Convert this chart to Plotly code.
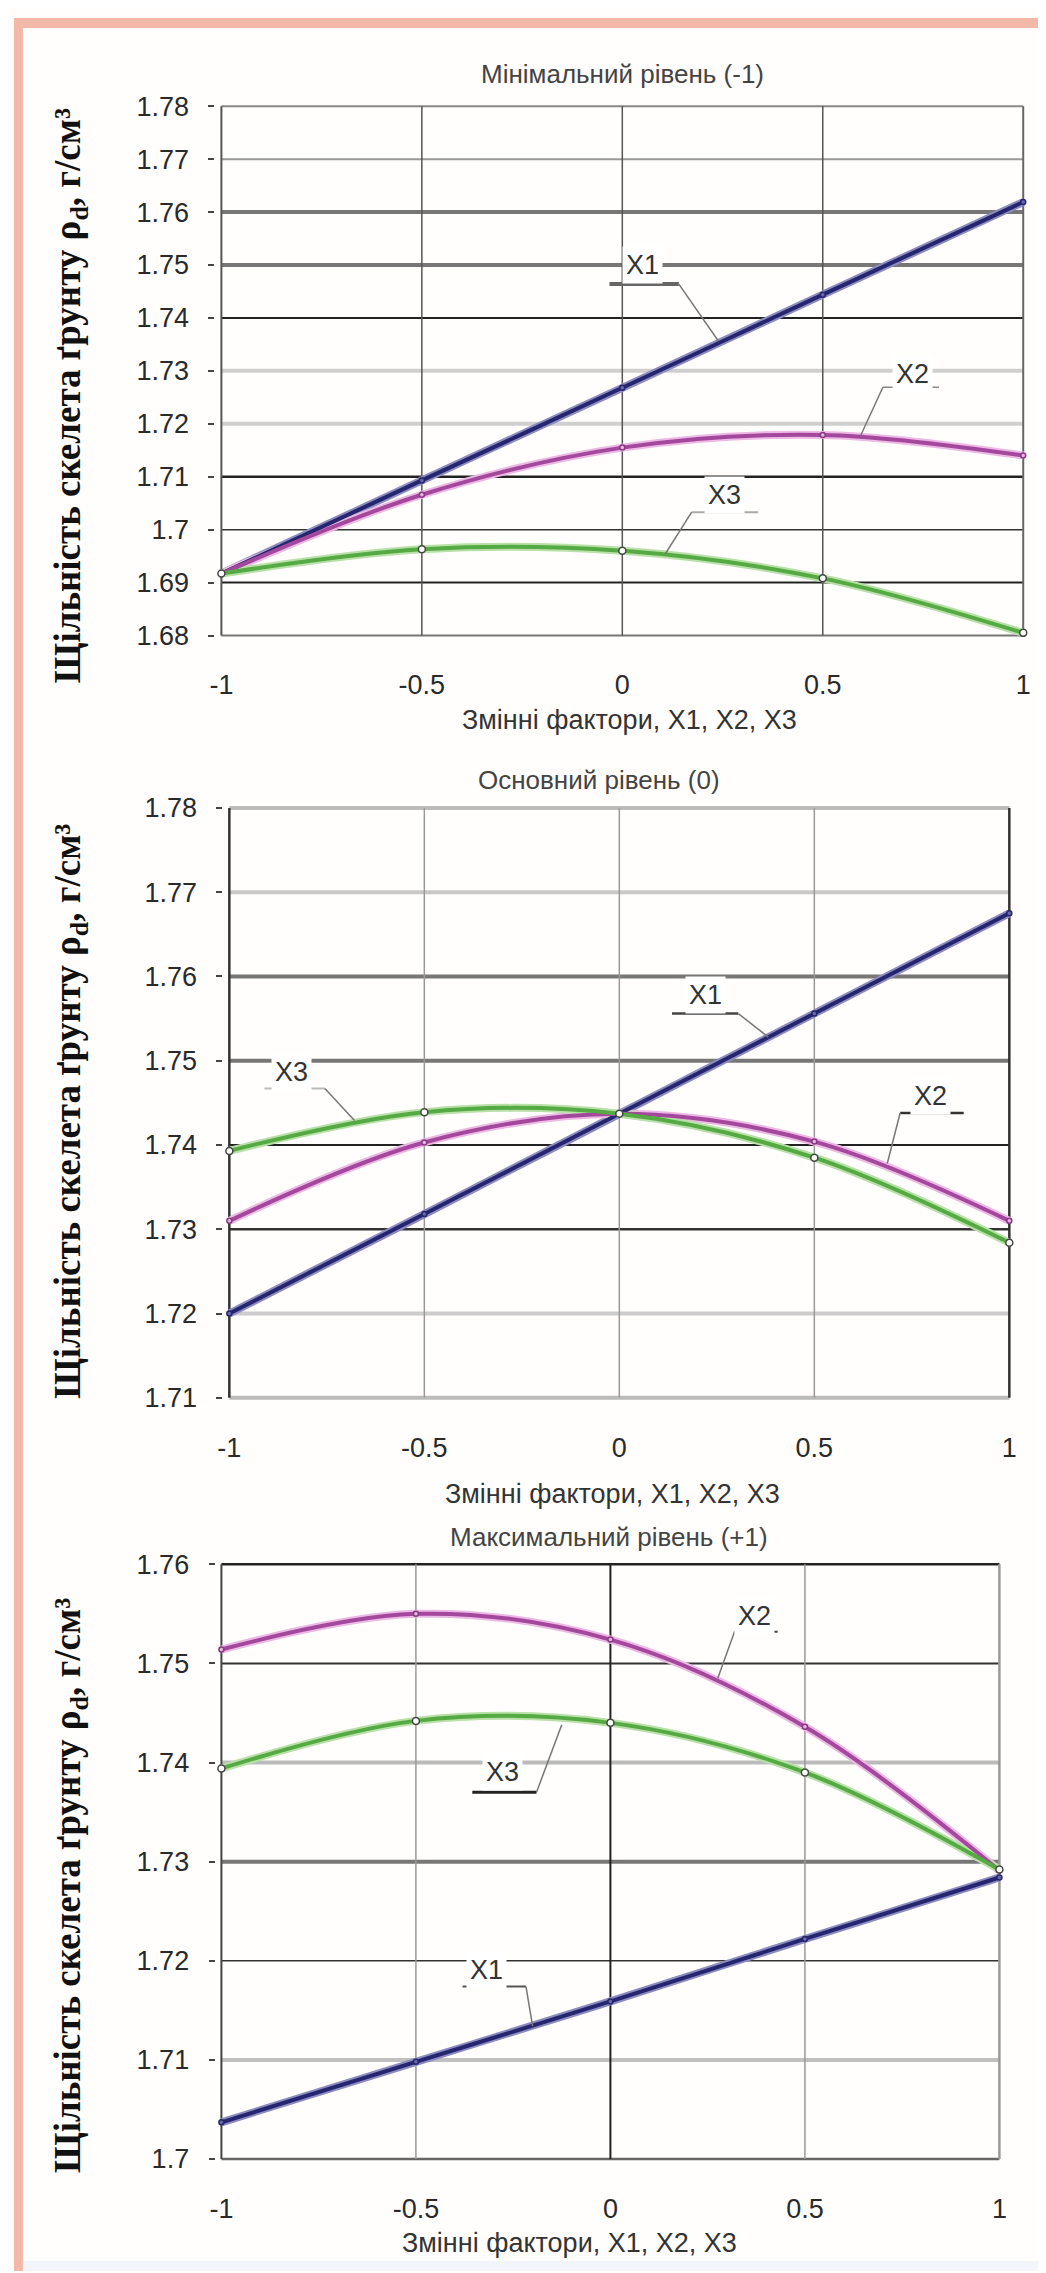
import plotly.graph_objects as go

# ---------------- data ----------------
x_levels = [-1, -0.5, 0, 0.5, 1]
x_tick_text = ["-1", "-0.5", "0", "0.5", "1"]
series_names = ["X1", "X2", "X3"]

# Panel 1: Мінімальний рівень (-1)
p1_x1 = [1.6917, 1.7093, 1.7268, 1.7444, 1.7619]
p1_x2 = [1.6917, 1.7066, 1.7155, 1.7179, 1.7140]
p1_x3 = [1.6917, 1.6963, 1.6960, 1.6908, 1.6805]
p1_yticks = [1.68, 1.69, 1.70, 1.71, 1.72, 1.73, 1.74, 1.75, 1.76, 1.77, 1.78]
p1_ytext = ["1.68", "1.69", "1.7", "1.71", "1.72", "1.73", "1.74", "1.75", "1.76", "1.77", "1.78"]

# Panel 2: Основний рівень (0)
p2_x1 = [1.7200, 1.7318, 1.7437, 1.7556, 1.7675]
p2_x2 = [1.7310, 1.7403, 1.7437, 1.7404, 1.7310]
p2_x3 = [1.7393, 1.7439, 1.7437, 1.7385, 1.7284]
p2_yticks = [1.71, 1.72, 1.73, 1.74, 1.75, 1.76, 1.77, 1.78]
p2_ytext = ["1.71", "1.72", "1.73", "1.74", "1.75", "1.76", "1.77", "1.78"]

# Panel 3: Максимальний рівень (+1)
p3_x1 = [1.7037, 1.7098, 1.7159, 1.7222, 1.7284]
p3_x2 = [1.7514, 1.7550, 1.7524, 1.7436, 1.7291]
p3_x3 = [1.7394, 1.7442, 1.7440, 1.7390, 1.7292]
p3_yticks = [1.70, 1.71, 1.72, 1.73, 1.74, 1.75, 1.76]
p3_ytext = ["1.7", "1.71", "1.72", "1.73", "1.74", "1.75", "1.76"]

titles = ["Мінімальний рівень (-1)", "Основний рівень (0)", "Максимальний рівень (+1)"]
x_title = "Змінні фактори, X1, X2, X3"
y_title = "Щільність скелета ґрунту ρ<sub>d</sub>, г/см³"

# ---------------- styles / layout ----------------
W, H = 1046, 2273
line_colors = ["#262670", "#a3489c", "#56aa44"]
halo_colors = ["#8c8cc0", "#ecb8e4", "#b8e0a8"]
marker_fill = ["#6a6aa8", "#e6b8e0", "white"]
marker_edge = ["#262670", "#8a3a84", "#444"]
marker_size = [5, 5, 7]
SANS = "Liberation Sans, Arial, sans-serif"
SERIF = "Liberation Serif, Times New Roman, serif"

# pixel geometry of each panel
geo = [
    dict(px=(209, 1017), py=(623, 89), ty=57, tx=613, xty=708, xtx=620, yty=381),
    dict(px=(217, 1003), py=(1392, 797), ty=769, tx=590, xty=1489, xtx=603, yty=1103),
    dict(px=(209, 993), py=(2160, 1560), ty=1532, tx=600, xty=2245, xtx=560, yty=1884),
]

# horizontal gridline styles (bottom -> top), vertical gridline styles (-1 -> 1)
hgrid = [
    [("#777", 2), ("#222", 2), ("#333", 1.5), ("#222", 2.5), ("#cfcfcf", 4), ("#cfcfcf", 4),
     ("#222", 2), ("#777", 4), ("#777", 4), ("#999", 2), ("#888", 2)],
    [("#bbb", 4), ("#ccc", 4), ("#333", 2.5), ("#222", 2), ("#777", 4), ("#777", 4),
     ("#c8c8c8", 4), ("#bbb", 4)],
    [("#666", 2.5), ("#c0c0c0", 4), ("#333", 1.5), ("#777", 4), ("#bbb", 4), ("#333", 2), ("#222", 2.5)],
]
vgrid = [
    [("#555", 2), ("#555", 1.5), ("#555", 1.5), ("#555", 1.5), ("#666", 2)],
    [("#333", 2.5), ("#999", 1.5), ("#999", 1.5), ("#999", 1.5), ("#333", 2.5)],
    [("#444", 2), ("#999", 1.5), ("#222", 2), ("#999", 1.5), ("#999", 2.5)],
]

# series labels: (name, text x, text y, underline x0, x1, y, leader end x, y, underline colour, width)
labels = [
    [("X1", 0.05, 1.7500, -0.032, 0.141, 1.7464, 0.24, 1.7356, "#666", 4),
     ("X2", 0.725, 1.7295, 0.65, 0.79, 1.7269, 0.594, 1.7177, "#888", 1.5),
     ("X3", 0.255, 1.7065, 0.173, 0.339, 1.7033, 0.107, 1.6954, "#aaa", 2)],
    [("X1", 0.221, 1.7578, 0.135, 0.305, 1.7556, 0.382, 1.7528, "#444", 2.5),
     ("X3", -0.84, 1.7487, -0.91, -0.755, 1.7467, -0.679, 1.7429, "#bbb", 2),
     ("X2", 0.797, 1.7458, 0.72, 0.883, 1.7438, 0.687, 1.7378, "#333", 2.5)],
    [("X2", 0.37, 1.7548, 0.319, 0.43, 1.7532, 0.276, 1.7485, "#444", 2),
     ("X3", -0.278, 1.7390, -0.355, -0.19, 1.7370, -0.125, 1.7438, "#222", 3),
     ("X1", -0.319, 1.7191, -0.38, -0.217, 1.7174, -0.2, 1.7134, "#555", 2)],
]
leader_anchor = [
    ["x1", "x0", "x0"],
    ["x1", "x1", "x0"],
    ["x0", "x1", "x1"],
]

panels = [
    ([p1_x1, p1_x2, p1_x3], p1_yticks, p1_ytext),
    ([p2_x1, p2_x2, p2_x3], p2_yticks, p2_ytext),
    ([p3_x1, p3_x2, p3_x3], p3_yticks, p3_ytext),
]

fig = go.Figure()
shapes = []
annotations = []
layout_axes = {}

XPAD = 0.015
for i, (series, yt, ytext) in enumerate(panels):
    g = geo[i]
    sfx = "" if i == 0 else str(i + 1)
    xa, ya = "x" + sfx, "y" + sfx
    xmin, xmax = x_levels[0], x_levels[-1]
    ppu_x = (g["px"][1] - g["px"][0]) / (xmax - xmin)
    xr = [xmin - XPAD, xmax + XPAD]
    xd = [(g["px"][0] - XPAD * ppu_x) / W, (g["px"][1] + XPAD * ppu_x) / W]
    ymin, ymax = yt[0], yt[-1]
    ppu_y = (g["py"][0] - g["py"][1]) / (ymax - ymin)
    ypad = 5 / ppu_y
    yr = [ymin - ypad, ymax + ypad]
    yd = [1 - (g["py"][0] + ypad * ppu_y) / H, 1 - (g["py"][1] - ypad * ppu_y) / H]

    layout_axes["xaxis" + sfx] = dict(
        domain=xd, range=xr, anchor=ya, showgrid=False, zeroline=False, showline=False,
        tickmode="array", tickvals=x_levels, ticktext=x_tick_text, ticks="",
        ticklabelstandoff=26, tickfont=dict(family=SANS, size=27, color="#2a2a2a"),
        fixedrange=True,
    )
    layout_axes["yaxis" + sfx] = dict(
        domain=yd, range=yr, anchor=xa, showgrid=False, zeroline=False, showline=False,
        tickmode="array", tickvals=yt, ticktext=ytext, ticks="outside", ticklen=6,
        tickcolor="#444", tickwidth=2, ticklabelstandoff=14,
        tickfont=dict(family=SANS, size=27, color="#2a2a2a"), fixedrange=True,
    )

    for v, (c, w) in zip(yt, hgrid[i]):
        shapes.append(dict(type="line", xref=xa, yref=ya, x0=xmin, x1=xmax, y0=v, y1=v,
                           line=dict(color=c, width=w), layer="below"))
    for v, (c, w) in zip(x_levels, vgrid[i]):
        shapes.append(dict(type="line", xref=xa, yref=ya, x0=v, x1=v, y0=ymin, y1=ymax,
                           line=dict(color=c, width=w), layer="below"))

    for k, ys in enumerate(series):
        fig.add_trace(go.Scatter(x=x_levels, y=ys, xaxis=xa, yaxis=ya, mode="lines",
                                 line=dict(color=halo_colors[k], width=8, shape="spline", smoothing=1),
                                 hoverinfo="skip", showlegend=False, cliponaxis=False))
    for k, ys in enumerate(series):
        fig.add_trace(go.Scatter(x=x_levels, y=ys, xaxis=xa, yaxis=ya, mode="lines+markers",
                                 name=series_names[k],
                                 line=dict(color=line_colors[k], width=4, shape="spline", smoothing=1),
                                 marker=dict(size=marker_size[k], color=marker_fill[k],
                                             line=dict(color=marker_edge[k], width=1.5)),
                                 showlegend=False, cliponaxis=False))

    for j, (nm, tx, ty, ux0, ux1, uy, lx, ly, uc, uw) in enumerate(labels[i]):
        shapes.append(dict(type="line", xref=xa, yref=ya, x0=ux0, x1=ux1, y0=uy, y1=uy,
                           line=dict(color=uc, width=uw)))
        sx = ux1 if leader_anchor[i][j] == "x1" else ux0
        shapes.append(dict(type="line", xref=xa, yref=ya, x0=sx, x1=lx, y0=uy, y1=ly,
                           line=dict(color="#777", width=1.5)))
        annotations.append(dict(x=tx, y=ty, xref=xa, yref=ya, text=nm, showarrow=False,
                                font=dict(family=SANS, size=27, color="#333"),
                                bgcolor="white", borderpad=3))

    annotations.append(dict(x=g["tx"] / W, y=1 - g["ty"] / H, xref="paper", yref="paper",
                            text=titles[i], showarrow=False, xanchor="center", yanchor="middle",
                            font=dict(family=SANS, size=26, color="#444")))
    annotations.append(dict(x=g["xtx"] / W, y=1 - g["xty"] / H, xref="paper", yref="paper",
                            text=x_title, showarrow=False, xanchor="center", yanchor="middle",
                            font=dict(family=SANS, size=27, color="#333")))
    annotations.append(dict(x=57 / W, y=1 - g["yty"] / H, xref="paper", yref="paper",
                            text=y_title, showarrow=False, textangle=-90, xanchor="center",
                            yanchor="middle",
                            font=dict(family=SERIF, size=37, color="#111", weight="bold")))

# page frame: pink border left/top, faint strip at bottom
shapes.append(dict(type="rect", xref="paper", yref="paper", x0=0, x1=9 / W, y0=0, y1=1,
                   fillcolor="#f2b8a8", line=dict(width=0), layer="below"))
shapes.append(dict(type="rect", xref="paper", yref="paper", x0=0, x1=1, y0=1 - 10 / H, y1=1,
                   fillcolor="#f2b8a8", line=dict(width=0), layer="below"))
shapes.append(dict(type="rect", xref="paper", yref="paper", x0=9 / W, x1=1, y0=0, y1=10 / H,
                   fillcolor="#f2f6fb", line=dict(width=0), layer="below"))

fig.update_layout(
    width=W, height=H, margin=dict(l=0, r=0, t=0, b=0),
    paper_bgcolor="#fffefc", plot_bgcolor="rgba(0,0,0,0)",
    shapes=shapes, annotations=annotations, showlegend=False,
    **layout_axes,
)

fig.write_html("out.html")
